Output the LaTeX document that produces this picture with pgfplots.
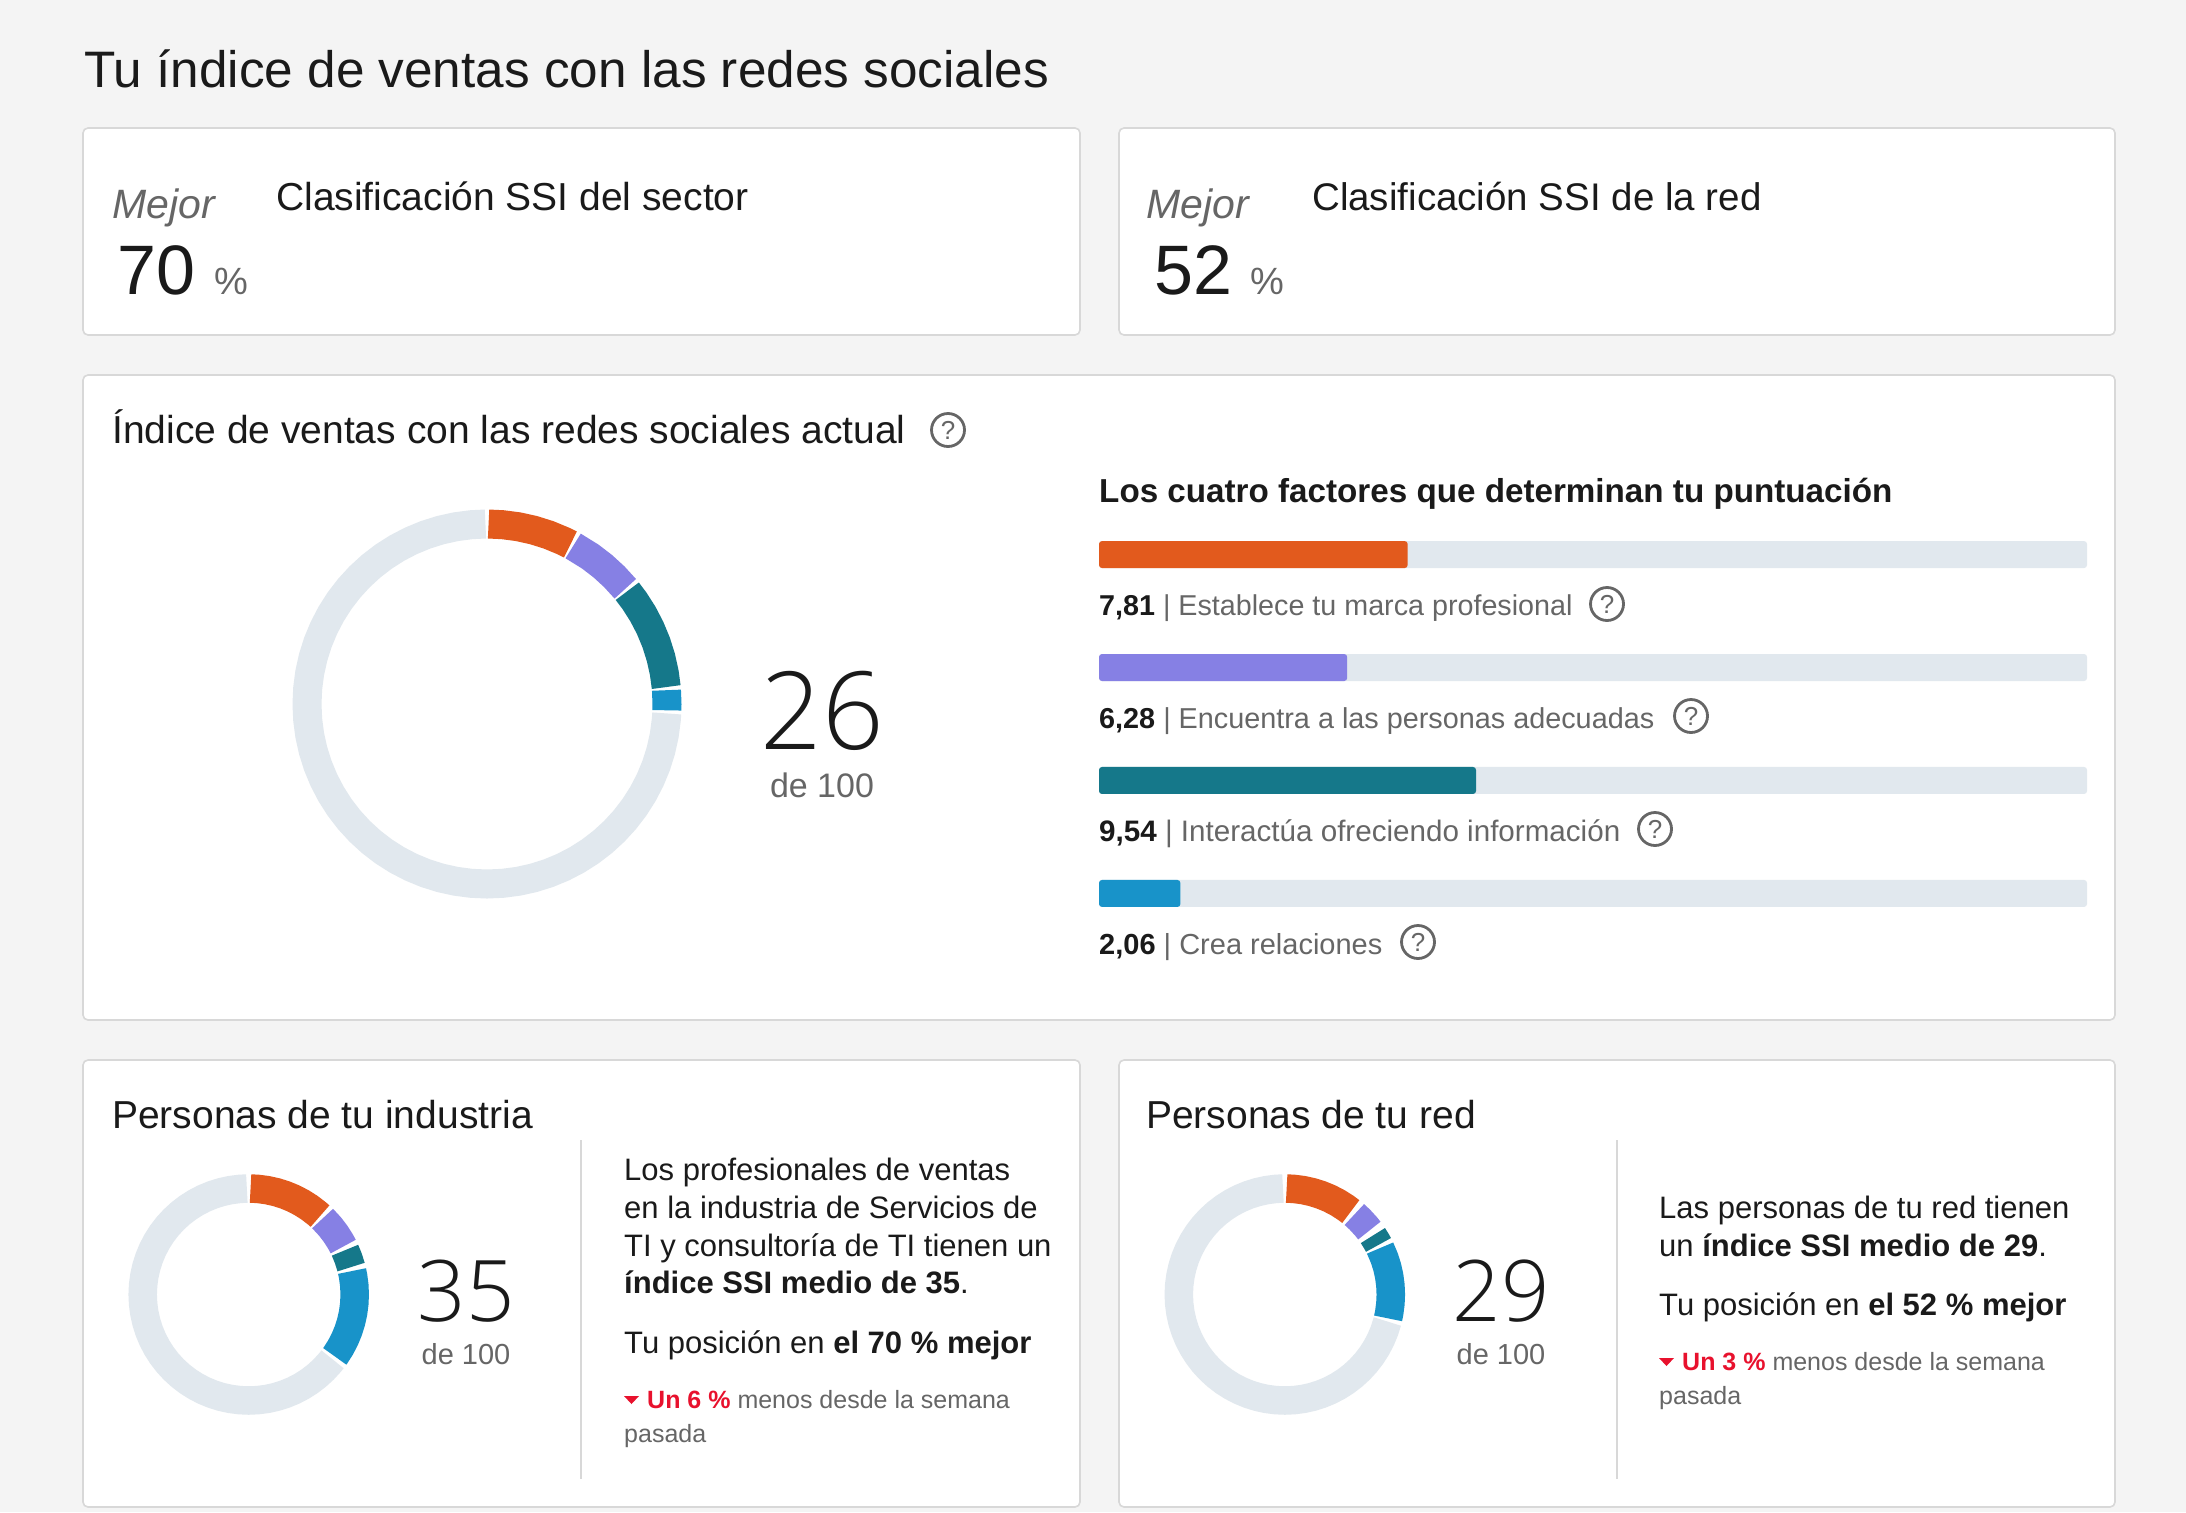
\documentclass[border=0pt]{standalone}
\usepackage{fontspec}
\setmainfont{Liberation Sans}
\newfontfamily\lightf{Open Sans Light}
\usepackage{pgfplots}
\pgfplotsset{compat=1.18}
\usepgfplotslibrary{polar}
\definecolor{cbg}{HTML}{F4F4F4}
\definecolor{cbd}{HTML}{D8D8D8}
\definecolor{ctx}{HTML}{1A1A1A}
\definecolor{cgr}{HTML}{666666}
\definecolor{cor}{HTML}{E25A1D}
\definecolor{cpu}{HTML}{8680E4}
\definecolor{cte}{HTML}{15788A}
\definecolor{cbl}{HTML}{1893C9}
\definecolor{ctr}{HTML}{E1E8EE}
\definecolor{cre}{HTML}{E8112D}
\newcommand{\txt}[5]{\node[anchor=base west,inner sep=0pt,text=#3,font=\fontsize{#4}{#4}\selectfont] at (#1,#2) {#5};}
\newcommand{\ctxt}[5]{\node[anchor=base,inner sep=0pt,text=#3,font=\fontsize{#4}{#4}\selectfont] at (#1,#2) {#5};}
\newcommand{\card}[4]{\draw[cbd,line width=1.6pt,fill=white,rounded corners=5pt] (#1,#2) rectangle (#3,#4);}
\newcommand{\help}[2]{\draw[cgr,line width=2.8pt] (#1,#2) circle (16.5pt);
  \node[inner sep=0pt,text=cgr,font=\fontsize{26}{26}\selectfont] at (#1,#2) {?};}
\pgfplotsset{donut/.style={hide axis,clip=false,scale only axis,xmin=0,xmax=360,ymin=0,anchor=center}}
\pgfplotsset{seg/.style={no markers,line cap=butt,line join=round}}
\begin{document}
\begin{tikzpicture}
\fill[cbg,use as bounding box] (0pt,0pt) rectangle (2186pt,-1512pt);
\begin{scope}[x=1pt,y=-1pt]
\card{83}{128}{1080}{335}
\card{1119}{128}{2115}{335}
\card{83}{375}{2115}{1020}
\card{83}{1060}{1080}{1507}
\card{1119}{1060}{2115}{1507}
\txt{84}{88}{ctx}{51.3}{Tu índice de ventas con las redes sociales}
% top cards
\txt{112}{218}{cgr}{41}{\itshape Mejor}
\txt{117}{294}{ctx}{70}{70}
\txt{214}{294}{cgr}{38}{\%}
\txt{276}{210}{ctx}{39}{Clasificación SSI del sector}
\txt{1146}{218}{cgr}{41}{\itshape Mejor}
\txt{1154}{294}{ctx}{70}{52}
\txt{1250}{294}{cgr}{38}{\%}
\txt{1312}{210}{ctx}{38.5}{Clasificación SSI de la red}
% middle
\txt{112}{443}{ctx}{39}{Índice de ventas con las redes sociales actual}
\help{948}{430}
\ctxt{822}{749}{ctx}{108}{\lightf 26}
\ctxt{822}{797}{cgr}{34}{de 100}
\txt{1099}{502}{ctx}{33.2}{\bfseries Los cuatro factores que determinan tu puntuación}
\txt{1099}{615}{cgr}{28.7}{\textcolor{ctx}{\bfseries 7,81} | Establece tu marca profesional}
\help{1607}{604}
\txt{1099}{728}{cgr}{28.8}{\textcolor{ctx}{\bfseries 6,28} | Encuentra a las personas adecuadas}
\help{1691}{716}
\txt{1099}{841}{cgr}{29.6}{\textcolor{ctx}{\bfseries 9,54} | Interactúa ofreciendo información}
\help{1655}{829}
\txt{1099}{954}{cgr}{29}{\textcolor{ctx}{\bfseries 2,06} | Crea relaciones}
\help{1418}{942}
% bottom left
\txt{112}{1128}{ctx}{39}{Personas de tu industria}
\draw[cbd,line width=1.6pt] (581,1140) -- (581,1479);
\ctxt{466}{1321}{ctx}{85}{\lightf 35}
\ctxt{466}{1364}{cgr}{29}{de 100}
\txt{624}{1180}{ctx}{31}{Los profesionales de ventas}
\txt{624}{1218}{ctx}{31}{en la industria de Servicios de}
\txt{624}{1256}{ctx}{31}{TI y consultoría de TI tienen un}
\txt{624}{1293}{ctx}{31}{\bfseries índice SSI medio de 35\mdseries.}
\txt{624}{1353}{ctx}{31}{Tu posición en \bfseries el 70 \% mejor}
\fill[cre] (624,1396) -- (639,1396) -- (631.5,1404) -- cycle;
\txt{647}{1408}{cgr}{25}{\textcolor{cre}{\bfseries Un 6 \%} menos desde la semana}
\txt{624}{1442}{cgr}{25}{pasada}
% bottom right
\txt{1146}{1128}{ctx}{39}{Personas de tu red}
\draw[cbd,line width=1.6pt] (1617,1140) -- (1617,1479);
\ctxt{1501}{1321}{ctx}{85}{\lightf 29}
\ctxt{1501}{1364}{cgr}{29}{de 100}
\txt{1659}{1218}{ctx}{31}{Las personas de tu red tienen}
\txt{1659}{1256}{ctx}{31}{un \bfseries índice SSI medio de 29\mdseries.}
\txt{1659}{1315}{ctx}{31}{Tu posición en \bfseries el 52 \% mejor}
\fill[cre] (1659,1358) -- (1674,1358) -- (1666.5,1366) -- cycle;
\txt{1682}{1370}{cgr}{25}{\textcolor{cre}{\bfseries Un 3 \%} menos desde la semana}
\txt{1659}{1404}{cgr}{25}{pasada}
\end{scope}

% factor bars
\begin{axis}[at={(1099pt,-907pt)},anchor=south west,scale only axis,width=988pt,height=366pt,
  hide axis,xmin=0,xmax=25,ymin=-0.12,ymax=3.12,clip=false,xbar,bar width=27pt,bar shift=0pt]
\addplot[fill=ctr,draw=none,rounded corners=3pt] coordinates {(25,3)(25,2)(25,1)(25,0)};
\addplot[fill=cor,draw=none,rounded corners=3pt] coordinates {(7.81,3)};
\addplot[fill=cpu,draw=none,rounded corners=3pt] coordinates {(6.28,2)};
\addplot[fill=cte,draw=none,rounded corners=3pt] coordinates {(9.54,1)};
\addplot[fill=cbl,draw=none,rounded corners=3pt] coordinates {(2.06,0)};
\end{axis}

% main donut
\begin{polaraxis}[donut,at={(487pt,-704pt)},width=400pt,height=400pt,ymax=200]
\addplot[seg,cor,line width=29pt] coordinates {(89.5,180)(85,180)(80,180)(75,180)(70,180)(65,180)(62.4,180)};
\addplot[seg,cpu,line width=29pt] coordinates {(61.4,180)(55,180)(50,180)(45,180)(39.8,180)};
\addplot[seg,cte,line width=29pt] coordinates {(38.8,180)(35,180)(30,180)(25,180)(20,180)(15,180)(10,180)(5.4,180)};
\addplot[seg,cbl,line width=29pt] coordinates {(4.4,180)(0,180)(358,180)};
\addplot[seg,ctr,line width=29pt] coordinates {(357,180)(355,180)(350,180)(345,180)(340,180)(335,180)(330,180)(325,180)(320,180)(315,180)(310,180)(305,180)(300,180)(295,180)(290,180)(285,180)(280,180)(275,180)(270,180)(265,180)(260,180)(255,180)(250,180)(245,180)(240,180)(235,180)(230,180)(225,180)(220,180)(215,180)(210,180)(205,180)(200,180)(195,180)(190,180)(185,180)(180,180)(175,180)(170,180)(165,180)(160,180)(155,180)(150,180)(145,180)(140,180)(135,180)(130,180)(125,180)(120,180)(115,180)(110,180)(105,180)(100,180)(95,180)(90.5,180)};
\end{polaraxis}

% industry donut
\begin{polaraxis}[donut,at={(248.7pt,-1294.5pt)},width=260pt,height=260pt,ymax=130]
\addplot[seg,cor,line width=28.5pt] coordinates {(89,106)(85,106)(80,106)(75,106)(70,106)(65,106)(60,106)(55,106)(50,106)(47.7,106)};
\addplot[seg,cpu,line width=28.5pt] coordinates {(45.8,106)(40,106)(35,106)(30,106)(26.9,106)};
\addplot[seg,cte,line width=28.5pt] coordinates {(24.7,106)(20,106)(15,106)};
\addplot[seg,cbl,line width=28.5pt] coordinates {(12.8,106)(10,106)(5,106)(0,106)(355,106)(350,106)(345,106)(340,106)(335,106)(330,106)(325,106)(324.3,106)};
\addplot[seg,ctr,line width=28.5pt] coordinates {(322.3,106)(320,106)(315,106)(310,106)(305,106)(300,106)(295,106)(290,106)(285,106)(280,106)(275,106)(270,106)(265,106)(260,106)(255,106)(250,106)(245,106)(240,106)(235,106)(230,106)(225,106)(220,106)(215,106)(210,106)(205,106)(200,106)(195,106)(190,106)(185,106)(180,106)(175,106)(170,106)(165,106)(160,106)(155,106)(150,106)(145,106)(140,106)(135,106)(130,106)(125,106)(120,106)(115,106)(110,106)(105,106)(100,106)(95,106)(91,106)};
\end{polaraxis}

% network donut
\begin{polaraxis}[donut,at={(1284.8pt,-1294.5pt)},width=260pt,height=260pt,ymax=130]
\addplot[seg,cor,line width=28.5pt] coordinates {(89,106)(85,106)(80,106)(75,106)(70,106)(65,106)(60,106)(55,106)(51.5,106)};
\addplot[seg,cpu,line width=28.5pt] coordinates {(49,106)(45,106)(40,106)(37.1,106)};
\addplot[seg,cte,line width=28.5pt] coordinates {(33.8,106)(30,106)(27.9,106)};
\addplot[seg,cbl,line width=28.5pt] coordinates {(26,106)(20,106)(15,106)(10,106)(5,106)(0,106)(355,106)(350,106)(347,106)};
\addplot[seg,ctr,line width=28.5pt] coordinates {(345.25,106)(340,106)(335,106)(330,106)(325,106)(320,106)(315,106)(310,106)(305,106)(300,106)(295,106)(290,106)(285,106)(280,106)(275,106)(270,106)(265,106)(260,106)(255,106)(250,106)(245,106)(240,106)(235,106)(230,106)(225,106)(220,106)(215,106)(210,106)(205,106)(200,106)(195,106)(190,106)(185,106)(180,106)(175,106)(170,106)(165,106)(160,106)(155,106)(150,106)(145,106)(140,106)(135,106)(130,106)(125,106)(120,106)(115,106)(110,106)(105,106)(100,106)(95,106)(91,106)};
\end{polaraxis}
\end{tikzpicture}
\end{document}
